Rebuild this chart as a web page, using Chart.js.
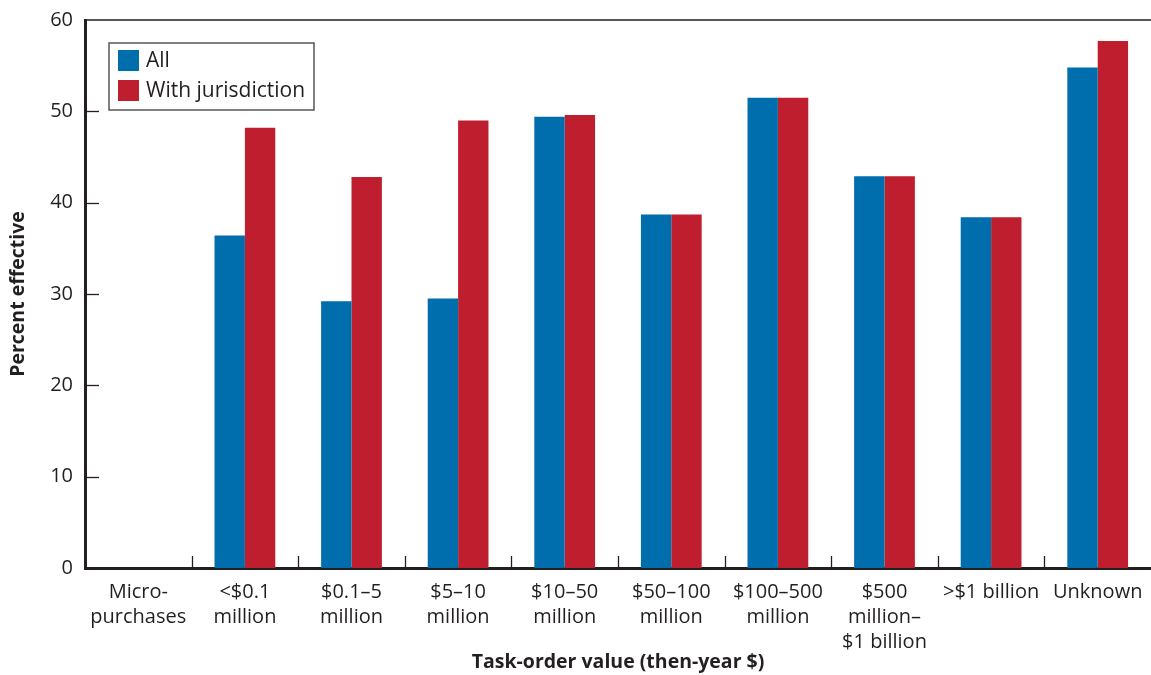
<!DOCTYPE html>
<html>
<head>
<meta charset="utf-8">
<script src="https://cdn.jsdelivr.net/npm/chart.js@4"></script>
<style>
html,body{margin:0;padding:0;background:#fff;}
#wrap{width:1151px;height:675px;}
</style>
</head>
<body>
<div id="wrap"><canvas id="chart" width="1151" height="675"></canvas></div>
<script>

// ===== DATA =====
const categories = [
["Micro-","purchases"],
["<$0.1","million"],
["$0.1–5","million"],
["$5–10","million"],
["$10–50","million"],
["$50–100","million"],
["$100–500","million"],
["$500","million–","$1 billion"],
[">$1 billion"],
["Unknown"]
];

const allValues = [null, 36.4, 29.2, 29.5, 49.4, 38.7, 51.5, 42.9, 38.4, 54.8];
const jurisdictionValues = [null, 48.2, 42.8, 49.0, 49.6, 38.7, 51.5, 42.9, 38.4, 57.7];

const yTicks = [0, 10, 20, 30, 40, 50, 60];

const seriesNames = ["All", "With jurisdiction"];

const BLUE = "#006dac";
const RED = "#be1e2d";
const INK = "#231f20";
const FONT = "'Open Sans', 'Noto Sans', sans-serif";


/* ================= FRAME PLUGIN ================= */
// top line, inward tick marks, boxed legend
const framePlugin = {
id: "frame",
afterDraw(chart){
let ctx = chart.ctx;
let a = chart.chartArea;
let x = chart.scales.x;
let y = chart.scales.y;

ctx.save();

// top line
ctx.strokeStyle = INK;
ctx.lineWidth = 1.5;
ctx.beginPath();
ctx.moveTo(a.left, a.top);
ctx.lineTo(a.right, a.top);
ctx.stroke();

// x ticks between categories
ctx.lineWidth = 1.3;
for(let i=1;i<categories.length;i++){
let px = Math.round((x.getPixelForValue(i-1) + x.getPixelForValue(i))/2) + 0.5;
ctx.beginPath();
ctx.moveTo(px, a.bottom);
ctx.lineTo(px, a.bottom - 12);
ctx.stroke();
}

// y ticks
yTicks.forEach(v=>{
if(v===0 || v===60) return;
let py = Math.round(y.getPixelForValue(v)) + 0.5;
ctx.beginPath();
ctx.moveTo(a.left, py);
ctx.lineTo(a.left + 14, py);
ctx.stroke();
});

// legend box
let lx = a.left + 24;
let ly = a.top + 23;
ctx.strokeStyle = "#555";
ctx.lineWidth = 1.5;
ctx.strokeRect(lx, ly, 205, 67);

ctx.font = "21px " + FONT;
ctx.textBaseline = "middle";
chart.data.datasets.forEach((ds,i)=>{
let sy = ly + 7 + i*30;
ctx.fillStyle = ds.backgroundColor;
ctx.fillRect(lx + 9, sy, 21, 21);
ctx.fillStyle = INK;
ctx.fillText(ds.label, lx + 37, sy + 11);
});

ctx.restore();
}
};


/* ================= CHART ================= */
new Chart(document.getElementById("chart"), {
type: "bar",
data: {
labels: categories,
datasets: [
{
label: seriesNames[0],
data: allValues,
backgroundColor: BLUE
},
{
label: seriesNames[1],
data: jurisdictionValues,
backgroundColor: RED
}
]
},
options: {
responsive: false,
animation: false,
layout: { padding: { top: 20, right: 0, left: 0, bottom: 0 } },
datasets: {
bar: { categoryPercentage: 0.57, barPercentage: 1.0 }
},
plugins: {
legend: { display: false },
tooltip: { enabled: false }
},
scales: {
x: {
grid: { display: false, drawTicks: false },
border: { display: true, color: INK, width: 3 },
ticks: {
color: INK,
font: { family: FONT, size: 20, lineHeight: 1.25 },
padding: 12,
maxRotation: 0,
autoSkip: false
},
title: {
display: true,
text: "Task-order value (then-year $)",
color: INK,
font: { family: FONT, size: 19.5, weight: "bold" },
padding: { top: 0, bottom: 1 }
},
afterFit(scale){
scale.height = 107;
scale.paddingLeft = 0;
scale.paddingRight = 0;
}
},
y: {
min: 0,
max: 60,
afterBuildTicks(scale){ scale.ticks = yTicks.map(v=>({value:v})); },
grid: { display: false, drawTicks: false },
border: { display: true, color: INK, width: 3 },
ticks: {
color: INK,
font: { family: FONT, size: 20 },
padding: 12
},
title: {
display: true,
text: "Percent effective",
color: INK,
font: { family: FONT, size: 19.5, weight: "bold" },
padding: { top: 7, bottom: 0 }
},
afterFit(scale){
scale.width = 85;
scale.paddingTop = 0;
scale.paddingBottom = 0;
}
}
}
},
plugins: [framePlugin]
});

</script>
</body>
</html>
